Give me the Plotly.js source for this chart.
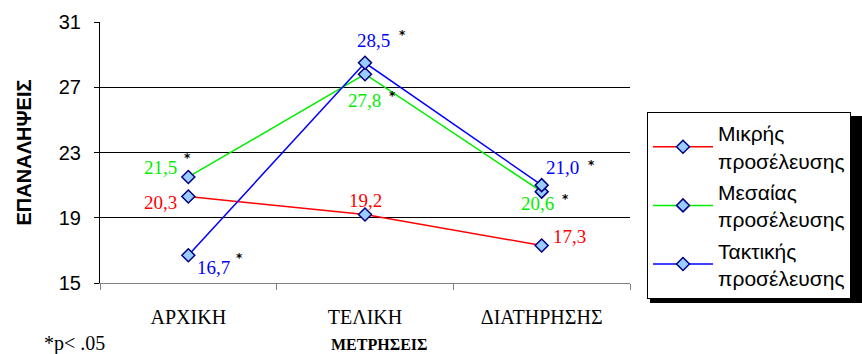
<!DOCTYPE html>
<html>
<head>
<meta charset="utf-8">
<script src="https://cdn.plot.ly/plotly-3.0.1.min.js"></script>
<style>html,body{margin:0;padding:0;background:#fff;}#chart{width:862px;height:354px;}</style>
</head>
<body>
<div id="chart"></div>
<script>
// ---- data ----
var categories = ['ΑΡΧΙΚΗ', 'ΤΕΛΙΚΗ', 'ΔΙΑΤΗΡΗΣΗΣ'];
var seriesNames = ['Μικρής<br>προσέλευσης', 'Μεσαίας<br>προσέλευσης', 'Τακτικής<br>προσέλευσης'];
var mikris = [20.3, 19.2, 17.3];
var mesaias = [21.5, 27.8, 20.6];
var taktikis = [16.7, 28.5, 21.0];
var significant = [[false, false, false], [true, true, true], [true, true, true]];
var yTickVals = [15, 19, 23, 27, 31];
var yTitle = 'ΕΠΑΝΑΛΗΨΕΙΣ';
var xTitle = 'ΜΕΤΡΗΣΕΙΣ';
var note = '*p< .05';

// ---- styles / label offsets (px) ----
var colors = ['#ff0000', '#00ee00', '#0000ff'];
var allSeries = [mikris, mesaias, taktikis];
var labelOffsets = [
  [[-28, -6], [0, 14], [28, 9]],
  [[-28, 9], [-1, -26], [-4, -12]],
  [[25, -12], [8, 22], [21, 18]]
];
var starOffsets = [
  [null, null, null],
  [[-1, 19], [27, -22], [24, -7]],
  [[51, -3], [37, 28], [50, 20]]
];

var traces = allSeries.map(function (vals, i) {
  return {
    type: 'scatter', mode: 'lines+markers',
    x: categories, y: vals, name: seriesNames[i],
    legendgroup: 'g' + i,
    line: {color: colors[i], width: 1.5},
    marker: {symbol: 'diamond', size: 10, color: '#99ccff', line: {color: '#000080', width: 1.5}},
    cliponaxis: false
  };
});

var annotations = [];
allSeries.forEach(function (vals, i) {
  vals.forEach(function (v, j) {
    annotations.push({
      x: categories[j], y: v, xref: 'x', yref: 'y',
      text: v.toFixed(1).replace('.', ','), showarrow: false,
      xshift: labelOffsets[i][j][0], yshift: labelOffsets[i][j][1],
      font: {family: 'Liberation Serif, Times New Roman, serif', size: 19, color: colors[i]}
    });
    if (significant[i][j]) {
      annotations.push({
        x: categories[j], y: v, xref: 'x', yref: 'y',
        text: '<b>*</b>', showarrow: false,
        xshift: starOffsets[i][j][0], yshift: starOffsets[i][j][1],
        font: {family: 'DejaVu Sans, sans-serif', size: 12, color: '#000'}
      });
    }
  });
});
annotations.push({
  xref: 'paper', yref: 'paper', x: (380 - 100) / 531, y: -(344 - 283) / 261,
  text: '<b>' + xTitle + '</b>', showarrow: false, xanchor: 'center', yanchor: 'middle',
  font: {family: 'Liberation Serif, serif', size: 16, color: '#000'}, borderpad: 0
});
annotations.push({
  xref: 'paper', yref: 'paper', x: (74 - 100) / 531, y: -(343 - 283) / 261,
  text: note, showarrow: false, xanchor: 'center', yanchor: 'middle',
  font: {family: 'Liberation Serif, serif', size: 20, color: '#000'}
});

// legend box in px (for the drop shadow)
var legL = 647, legT = 112, legB = 299, shadow = 4;
var pl = 100, pt = 22, pw = 531, ph = 261;

var layout = {
  width: 862, height: 354,
  margin: {l: pl, r: 862 - pl - pw, t: pt, b: 354 - pt - ph},
  paper_bgcolor: '#fff', plot_bgcolor: '#fff',
  showlegend: true,
  legend: {
    x: (legL - pl) / pw, y: 1 - (legT - pt) / ph, xanchor: 'left', yanchor: 'top',
    bgcolor: '#fff', bordercolor: '#000', borderwidth: 1,
    font: {family: 'Liberation Sans, Arial, sans-serif', size: 21, color: '#000'},
    itemwidth: 60,
    tracegroupgap: 1
  },
  xaxis: {
    type: 'category', range: [-0.5, 2.5],
    showline: true, linecolor: '#808080', linewidth: 1,
    ticks: 'outside', tickson: 'boundaries', ticklen: 6, tickcolor: '#808080',
    showgrid: false, zeroline: false,
    tickfont: {family: 'Liberation Serif, Times New Roman, serif', size: 20, color: '#000'},
    ticklabelstandoff: 16
  },
  yaxis: {
    range: [15, 31], tickvals: yTickVals,
    showline: true, linecolor: '#000', linewidth: 1,
    ticks: 'outside', ticklen: 5, tickcolor: '#000',
    showgrid: true, gridcolor: '#000', gridwidth: 1, zeroline: false,
    tickfont: {family: 'Liberation Sans, Arial, sans-serif', size: 20, color: '#000'},
    ticklabelstandoff: 9,
    title: {text: '<b>' + yTitle + '</b>', standoff: 21,
      font: {family: 'Liberation Sans, Arial, sans-serif', size: 20, color: '#000'}}
  },
  annotations: annotations,
  shapes: [{
    type: 'rect', xref: 'paper', yref: 'paper', layer: 'above',
    x0: (legL + shadow - pl) / pw, x1: (872 - pl) / pw,
    y0: 1 - (legB + shadow - pt) / ph, y1: 1 - (legT + shadow - pt) / ph,
    fillcolor: '#000', line: {width: 0}
  }]
};

Plotly.newPlot('chart', traces, layout, {displayModeBar: false, staticPlot: true});
</script>
</body>
</html>
